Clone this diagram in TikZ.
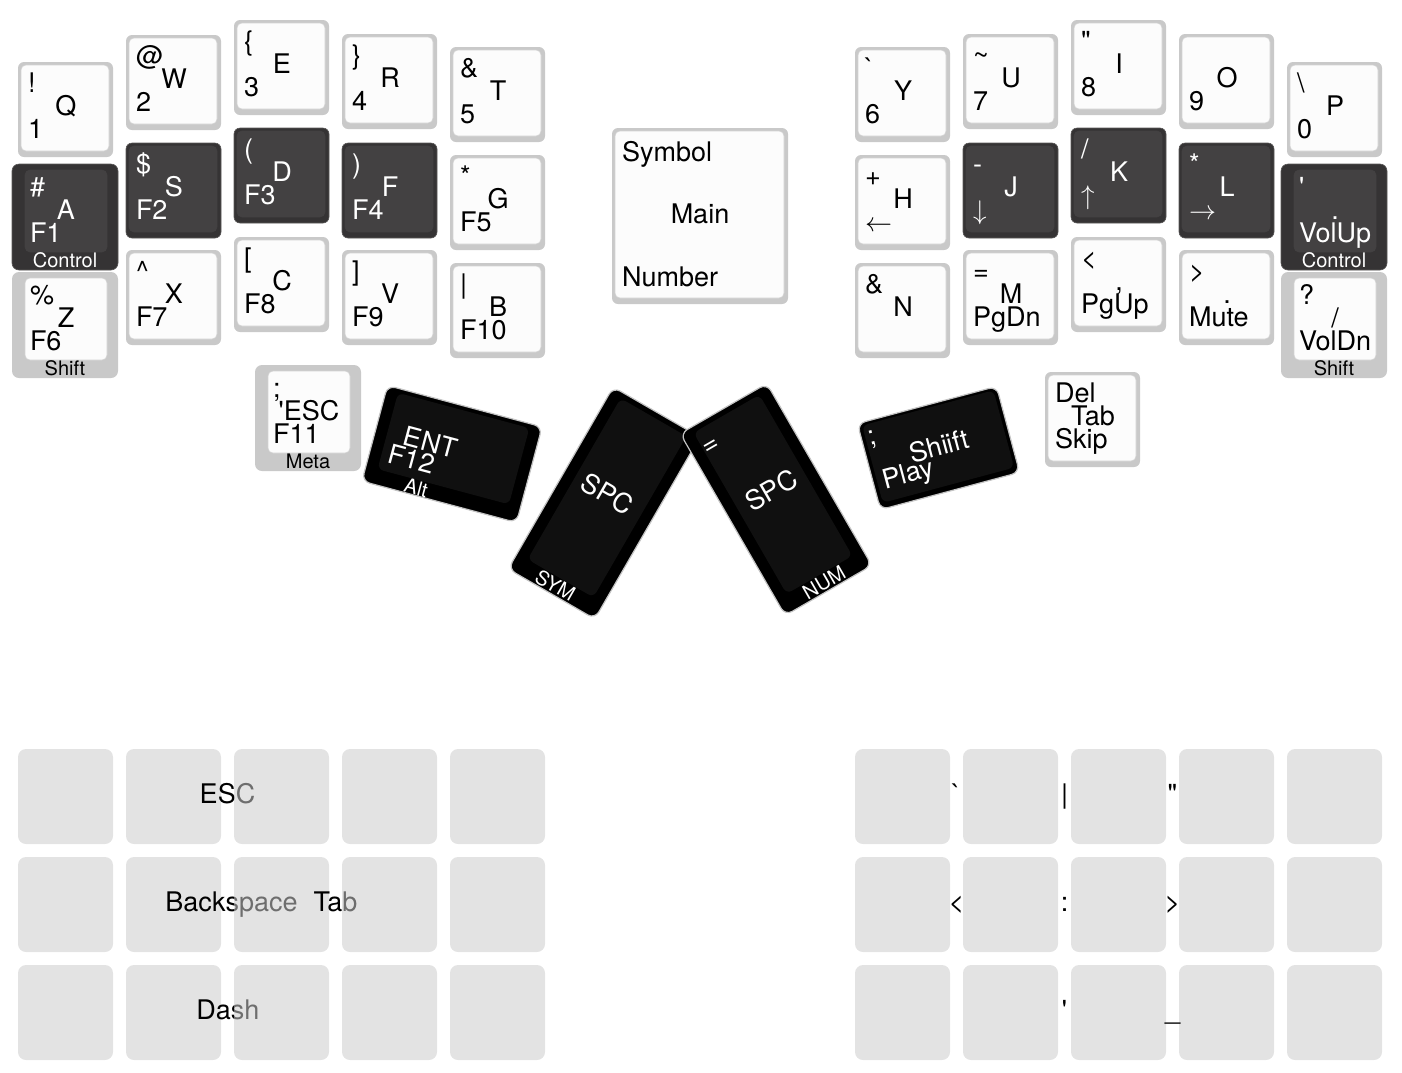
\documentclass[tikz,border=0pt]{standalone}
\usepackage{fontspec}
\setmainfont{TeX Gyre Heros}
\definecolor{kshadow}{HTML}{C9C9C9}
\definecolor{kface}{HTML}{FCFCFC}
\definecolor{kfaceline}{HTML}{D4D4D4}
\definecolor{dshadow}{HTML}{353334}
\definecolor{dfacec}{HTML}{434142}
\definecolor{dline}{HTML}{5A5858}
\definecolor{bline}{HTML}{C4C4C4}
\definecolor{bfacec}{HTML}{101010}
\definecolor{gridc}{HTML}{CCCCCC}
\newcommand\lgf{\fontsize{27}{32}\selectfont}
\newcommand\hlf{\fontsize{20}{24}\selectfont}
\newcommand\arr[1]{\scalebox{1.085}{$#1$}}
\tikzset{
 kbase/.style={inner sep=0pt, outer sep=0pt},
 out-l/.style={kbase, anchor=north west, minimum width=95pt, minimum height=95pt, rounded corners=6pt, fill=kshadow},
 out-d/.style={out-l, fill=dshadow, draw=dline, line width=0.6pt},
 face-l/.style={kbase, anchor=north west, minimum width=88pt, minimum height=86pt, rounded corners=5pt, fill=kface, draw=kfaceline, line width=0.6pt},
 face-d/.style={face-l, fill=dfacec, draw=dfacec},
 hout-l/.style={kbase, anchor=north west, minimum width=106pt, minimum height=106pt, rounded corners=7pt, fill=kshadow},
 hout-d/.style={hout-l, fill=dshadow, draw=dline, line width=0.6pt},
 hface-l/.style={kbase, anchor=north west, minimum width=82pt, minimum height=82pt, rounded corners=5pt, fill=kface, draw=kfaceline, line width=0.6pt},
 hface-d/.style={hface-l, fill=dfacec, draw=dfacec},
 txt-l/.style={text=black},
 txt-d/.style={text=white},
 tlg/.style={kbase, font=\lgf, anchor=base west},
 tapg/.style={kbase, font=\lgf, anchor=base},
 holdg/.style={kbase, font=\hlf, anchor=base},
 bout/.style={kbase, rounded corners=8pt, fill=black, draw=bline, line width=1.2pt},
 bface/.style={kbase, rounded corners=6pt, fill=bfacec},
 gridk/.style={kbase, anchor=north west, minimum width=95pt, minimum height=95pt, rounded corners=8pt, fill=gridc, fill opacity=0.54},
 combo/.style={kbase, anchor=base, font=\lgf, text=black}
}
% name, x0, y0, variant, tl, tap, bl
\newcommand{\stdkey}[7]{%
 \begin{scope}[shift={(#2,-#3)}]
  \node[out-#4] (k-#1) at (0,0) {};
  \node[face-#4] (k-#1-f) at (3,-3) {};
  \node[tlg,txt-#4] (k-#1-a) at (10,-30) {#5};
  \node[tapg,txt-#4] (k-#1-t) at (48,-53) {#6};
  \node[tlg,txt-#4] (k-#1-b) at (10,-76) {#7};
 \end{scope}}
% name, x0, y0, variant, tl, tap, bl, hold
\newcommand{\holdkey}[8]{%
 \begin{scope}[shift={(#2,-#3)}]
  \node[hout-#4] (k-#1) at (-6,6) {};
  \node[hface-#4] (k-#1-f) at (7,0) {};
  \node[tlg,txt-#4] (k-#1-a) at (12,-26) {#5};
  \node[tapg,txt-#4] (k-#1-t) at (48,-49) {#6};
  \node[tlg,txt-#4] (k-#1-b) at (12,-72) {#7};
  \node[holdg,txt-#4] (k-#1-h) at (47,-97) {#8};
 \end{scope}}
\newcommand{\gk}[3]{\node[gridk] (#1) at (#2,-#3) {};}
\begin{document}
\begin{tikzpicture}[x=1pt,y=1pt]
\useasboundingbox (0,0) rectangle (1402,-1072);
% ---------- left hand ----------
\stdkey{q}{18}{62}{l}{!}{Q}{1}
\stdkey{w}{126}{35}{l}{@}{W}{2}
\stdkey{e}{234}{20}{l}{\{}{E}{3}
\stdkey{r}{342}{34}{l}{\}}{R}{4}
\stdkey{t}{450}{47}{l}{\&}{T}{5}
\holdkey{a}{18}{170}{d}{\#}{A}{F1}{Control}
\stdkey{s}{126}{143}{d}{\$}{S}{F2}
\stdkey{d}{234}{128}{d}{(}{D}{F3}
\stdkey{f}{342}{143}{d}{)}{F}{F4}
\stdkey{g}{450}{155}{l}{*}{G}{F5}
\holdkey{z}{18}{278}{l}{\%}{Z}{F6}{Shift}
\stdkey{x}{126}{250}{l}{\textasciicircum}{X}{F7}
\stdkey{c}{234}{237}{l}{[}{C}{F8}
\stdkey{v}{342}{250}{l}{]}{V}{F9}
\stdkey{b}{450}{263}{l}{|}{B}{F10}
% ---------- right hand ----------
\stdkey{y}{855}{47}{l}{\textasciigrave}{Y}{6}
\stdkey{u}{963}{34}{l}{\textasciitilde}{U}{7}
\stdkey{i}{1071}{20}{l}{\textquotedbl}{I}{8}
\stdkey{o}{1179}{34}{l}{}{O}{9}
\stdkey{p}{1287}{62}{l}{\textbackslash}{P}{0}
\stdkey{h}{855}{155}{l}{+}{H}{\arr{\leftarrow}}
\stdkey{j}{963}{143}{d}{-}{J}{\arr{\downarrow}}
\stdkey{k}{1071}{128}{d}{/}{K}{\arr{\uparrow}}
\stdkey{l}{1179}{143}{d}{*}{L}{\arr{\rightarrow}}
\holdkey{quot}{1287}{170}{d}{\textquotesingle}{.}{VolUp}{Control}
\stdkey{n}{855}{263}{l}{\&}{N}{}
\stdkey{m}{963}{250}{l}{=}{M}{PgDn}
\stdkey{comma}{1071}{237}{l}{<}{,}{PgUp}
\stdkey{dot}{1179}{250}{l}{>}{.}{Mute}
\holdkey{slash}{1287}{278}{l}{?}{/}{VolDn}{Shift}
% ---------- centre layer key ----------
\begin{scope}[shift={(612,-128)}]
 \node[out-l, minimum width=176pt, minimum height=176pt] (k-layer) at (0,0) {};
 \node[face-l, minimum width=169pt, minimum height=167pt] (k-layer-f) at (3,-3) {};
 \node[tlg] (k-layer-a) at (10,-33) {Symbol};
 \node[tapg] (k-layer-t) at (88,-95) {Main};
 \node[tlg] (k-layer-b) at (10,-158) {Number};
\end{scope}
% ---------- thumbs ----------
\holdkey{meta}{261}{371}{l}{;}{\textquotesingle ESC}{F11}{Meta}
\stdkey{del}{1045}{372}{l}{Del}{Tab}{Skip}
\begin{scope}[shift={(452,-454)}, rotate=-15, transform shape]
 \node[bout, minimum width=160pt, minimum height=99pt] (k-ent) at (0,0) {};
 \node[bface, minimum width=136pt, minimum height=79pt] (k-ent-f) at (0,5.6) {};
 \node[tapg, text=white] (k-ent-t) at (-24,-3.7) {ENT};
 \node[tlg, text=white] (k-ent-b) at (-61,-25) {F12};
 \node[holdg, text=white] (k-ent-h) at (-26,-49) {Alt};
\end{scope}
\begin{scope}[shift={(604,-503)}, rotate=-30, transform shape]
 \node[bout, minimum width=100pt, minimum height=210pt] (k-spl) at (0,0) {};
 \node[bface, minimum width=76pt, minimum height=186pt] (k-spl-f) at (0,6) {};
 \node[tapg, text=white] (k-spl-t) at (-1.7,0.3) {SPC};
 \node[holdg, text=white] (k-spl-h) at (-1,-103) {SYM};
\end{scope}
\begin{scope}[shift={(776,-499.5)}, rotate=30, transform shape]
 \node[bout, minimum width=100pt, minimum height=210pt] (k-spr) at (0,0) {};
 \node[bface, minimum width=76pt, minimum height=186pt] (k-spr-f) at (0,6) {};
 \node[tlg, text=white] (k-spr-a) at (-37,72.6) {=};
 \node[tapg, text=white] (k-spr-t) at (0.4,0.3) {SPC};
 \node[holdg, text=white] (k-spr-h) at (0.1,-103) {NUM};
\end{scope}
\begin{scope}[shift={(938.5,-448)}, rotate=15, transform shape]
 \node[bout, minimum width=144pt, minimum height=89pt] (k-shf) at (0,0) {};
 \node[bface, minimum width=136pt, minimum height=80pt] (k-shf-f) at (0,1.5) {};
 \node[tlg, text=white] (k-shf-a) at (-65,19.5) {;};
 \node[tapg, text=white] (k-shf-t) at (0.9,-8) {Shiift};
 \node[tlg, text=white] (k-shf-b) at (-62,-26) {Play};
\end{scope}
% ---------- combo grids ----------
\gk{gl00}{18}{749}\gk{gl01}{126}{749}
\node[combo] (c-esc) at (227.5,-803) {ESC};
\gk{gl02}{234}{749}\gk{gl03}{342}{749}\gk{gl04}{450}{749}
\gk{gl10}{18}{857}\gk{gl11}{126}{857}
\node[combo] (c-bsp) at (231.5,-911) {Backspace};
\gk{gl12}{234}{857}
\node[combo] (c-tab) at (335.5,-911) {Tab};
\gk{gl13}{342}{857}\gk{gl14}{450}{857}
\gk{gl20}{18}{965}\gk{gl21}{126}{965}
\node[combo] (c-dash) at (228,-1019) {Dash};
\gk{gl22}{234}{965}\gk{gl23}{342}{965}\gk{gl24}{450}{965}
\foreach \r/\yy in {0/749,1/857,2/965}{
 \foreach \c/\xx in {0/855,1/963,2/1071,3/1179,4/1287}{
  \node[gridk] (gr\r\c) at (\xx,-\yy) {};
 }}
\node[combo] (c-grave) at (956.5,-803) {\textasciigrave};
\node[combo] (c-pipe) at (1064.5,-803) {|};
\node[combo] (c-dquote) at (1172.5,-803) {\textquotedbl};
\node[combo] (c-lt) at (956.5,-911) {<};
\node[combo] (c-colon) at (1064.5,-911) {:};
\node[combo] (c-gt) at (1172.5,-911) {>};
\node[combo] (c-quote) at (1064.5,-1019) {\textquotesingle};
\node[combo] (c-under) at (1172.5,-1019) {\_};
\end{tikzpicture}
\end{document}
